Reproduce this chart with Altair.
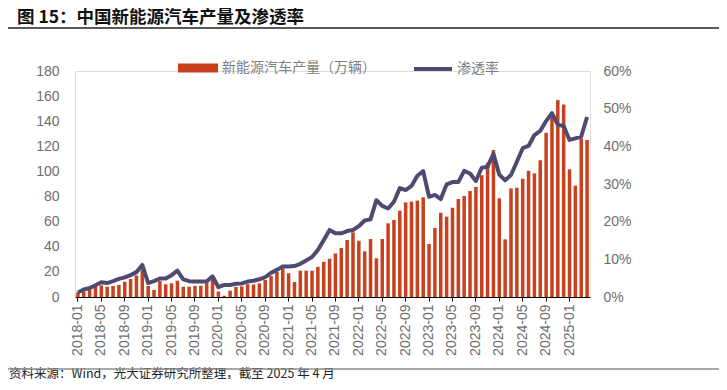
import altair as alt
import pandas as pd

# ---------------- data ----------------
months = [f"{y}-{m:02d}" for y in range(2018, 2026) for m in range(1, 13)][:88]

production = [
    3.7, 4.3, 6.5, 8.0, 9.3, 8.2, 8.8, 9.6, 12.2, 14.3, 17.2, 21.5,        # 2018
    8.8, 5.6, 12.7, 10.1, 10.9, 13.0, 8.2, 8.2, 8.8, 9.0, 10.9, 13.6,      # 2019
    4.3, 1.0, 5.0, 8.0, 8.5, 10.2, 10.0, 10.9, 13.6, 16.7, 20.0, 22.5,     # 2020
    18.9, 11.9, 21.0, 21.0, 21.0, 24.0, 28.0, 30.5, 34.7, 39.0, 45.4, 51.5,  # 2021
    44.8, 36.4, 46.2, 30.8, 46.2, 58.7, 61.3, 68.7, 75.4, 76.0, 76.8, 79.4,  # 2022
    42.2, 55.0, 67.1, 64.0, 71.1, 78.0, 80.4, 84.4, 87.6, 97.0, 107.0, 117.0,  # 2023
    78.6, 45.9, 86.5, 87.0, 94.2, 100.5, 98.5, 109.0, 130.8, 145.5, 156.8, 153.4,  # 2024
    101.7, 88.6, 126.3, 125.0,                                              # 2025
]

penetration = [  # percent
    1.2, 2.0, 2.4, 3.1, 3.9, 3.7, 4.2, 4.8, 5.2, 5.8, 6.6, 8.5,
    3.7, 4.2, 4.9, 4.9, 5.8, 7.0, 4.7, 4.2, 4.1, 4.1, 4.1, 5.5,
    2.6, 3.2, 3.2, 3.5, 3.6, 4.1, 4.3, 4.7, 5.3, 6.4, 7.2, 8.1,
    8.1, 8.2, 8.8, 9.7, 10.6, 12.5, 15.1, 17.8, 16.9, 16.9, 17.5, 17.8,
    18.8, 20.3, 20.6, 25.7, 24.2, 23.5, 25.3, 28.9, 28.4, 29.5, 32.2, 33.4,
    26.6, 27.1, 26.0, 29.9, 30.5, 30.5, 33.5, 32.8, 30.8, 34.3, 34.6, 38.0,
    32.5, 31.0, 32.4, 35.9, 39.5, 40.1, 43.0, 44.1, 46.7, 48.8, 45.7, 45.4,
    41.7, 42.1, 42.6, 47.8,
]

tick_labels = months[::4]
left_ticks = [0, 20, 40, 60, 80, 100, 120, 140, 160, 180]
right_ticks = [0, 0.1, 0.2, 0.3, 0.4, 0.5, 0.6]

TITLE = "图 15：中国新能源汽车产量及渗透率"
SOURCE = "资料来源：Wind，光大证券研究所整理，截至 2025 年 4 月"
BAR_NAME = "新能源汽车产量（万辆）"
LINE_NAME = "渗透率"

BAR_COLOR = "#C8411E"
LINE_COLOR = "#4E4B73"
LABEL_COLOR = "#6E6E6E"
CJK = "Noto Sans CJK SC"
LATIN = "Liberation Sans"

df = pd.DataFrame({
    "month": months,
    "production": production,
    "rate": [p / 100 for p in penetration],
    "bar": BAR_NAME,
    "line": LINE_NAME,
})

W, H = 515, 226

x_enc = alt.X(
    "month:O",
    sort=months,
    scale=alt.Scale(paddingInner=0.4, paddingOuter=0.2),
    axis=alt.Axis(
        values=tick_labels, labelAngle=270, title=None,
        domainColor="#000000", domainWidth=1.2, tickColor="#000000", tickSize=4,
        labelFontSize=14, labelColor=LABEL_COLOR, labelFont=LATIN, labelPadding=3,
    ),
)

bars = alt.Chart(df).mark_bar().encode(
    x=x_enc,
    y=alt.Y(
        "production:Q",
        scale=alt.Scale(domain=[0, 180], nice=False),
        axis=alt.Axis(
            orient="left", values=left_ticks, title=None, domain=False, ticks=False,
            grid=False, labelFontSize=14, labelColor=LABEL_COLOR, labelFont=LATIN,
            labelPadding=16,
        ),
    ),
    fill=alt.Fill(
        "bar:N",
        scale=alt.Scale(range=[BAR_COLOR]),
        legend=alt.Legend(
            orient="none", legendX=103, legendY=-23, title=None, padding=0,
            symbolType="M-1,-0.22H1V0.22H-1Z", symbolSize=1600, symbolStrokeWidth=0,
            labelFontSize=14, labelColor="#7F7F7F", labelFont=CJK, labelOffset=4,
        ),
    ),
)

line = alt.Chart(df).mark_line(strokeWidth=4, strokeJoin="round").encode(
    x=x_enc,
    y=alt.Y(
        "rate:Q",
        scale=alt.Scale(domain=[0, 0.6], nice=False),
        axis=alt.Axis(
            orient="right", values=right_ticks, format=".0%", title=None,
            domain=False, ticks=False, grid=False, labelFontSize=14,
            labelColor=LABEL_COLOR, labelFont=LATIN, labelPadding=13,
        ),
    ),
    stroke=alt.Stroke(
        "line:N",
        scale=alt.Scale(range=[LINE_COLOR]),
        legend=alt.Legend(
            orient="none", legendX=337, legendY=-23, title=None, padding=0,
            symbolType="stroke", symbolSize=1444, symbolStrokeWidth=4,
            labelFontSize=14, labelColor="#7F7F7F", labelFont=CJK, labelOffset=3,
        ),
    ),
)

title_df = pd.DataFrame({"t": [TITLE]})
source_df = pd.DataFrame({"t": [SOURCE]})

title_text = alt.Chart(title_df).mark_text(
    align="left", baseline="middle", fontSize=17.5, fontWeight="bold", font=CJK, color="#111111"
).encode(x=alt.value(-58), y=alt.value(-53), text="t:N")

source_text = alt.Chart(source_df).mark_text(
    align="left", baseline="alphabetic", fontSize=12.5, font=CJK, color="#222222"
).encode(x=alt.value(-66), y=alt.value(307), text="t:N")

top_rule = alt.Chart(title_df).mark_rule(color="#222222", strokeWidth=1.5).encode(
    x=alt.value(-67), x2=alt.value(645), y=alt.value(-43)
)
bottom_rule = alt.Chart(title_df).mark_rule(color="#8C8C8C", strokeWidth=1.5).encode(
    x=alt.value(-67), x2=alt.value(645), y=alt.value(298)
)

chart = (
    alt.layer(bars, line, title_text, source_text, top_rule, bottom_rule)
    .resolve_scale(y="independent", fill="independent", stroke="independent")
    .properties(
        width=W, height=H,
        autosize=alt.AutoSizeParams(type="none"),
        padding={"left": 67, "top": 63, "right": 129, "bottom": 85},
    )
    .configure_view(stroke=None)
    .configure(background="white")
)

chart.save("out.html", embed_options={"renderer": "svg", "actions": False})
